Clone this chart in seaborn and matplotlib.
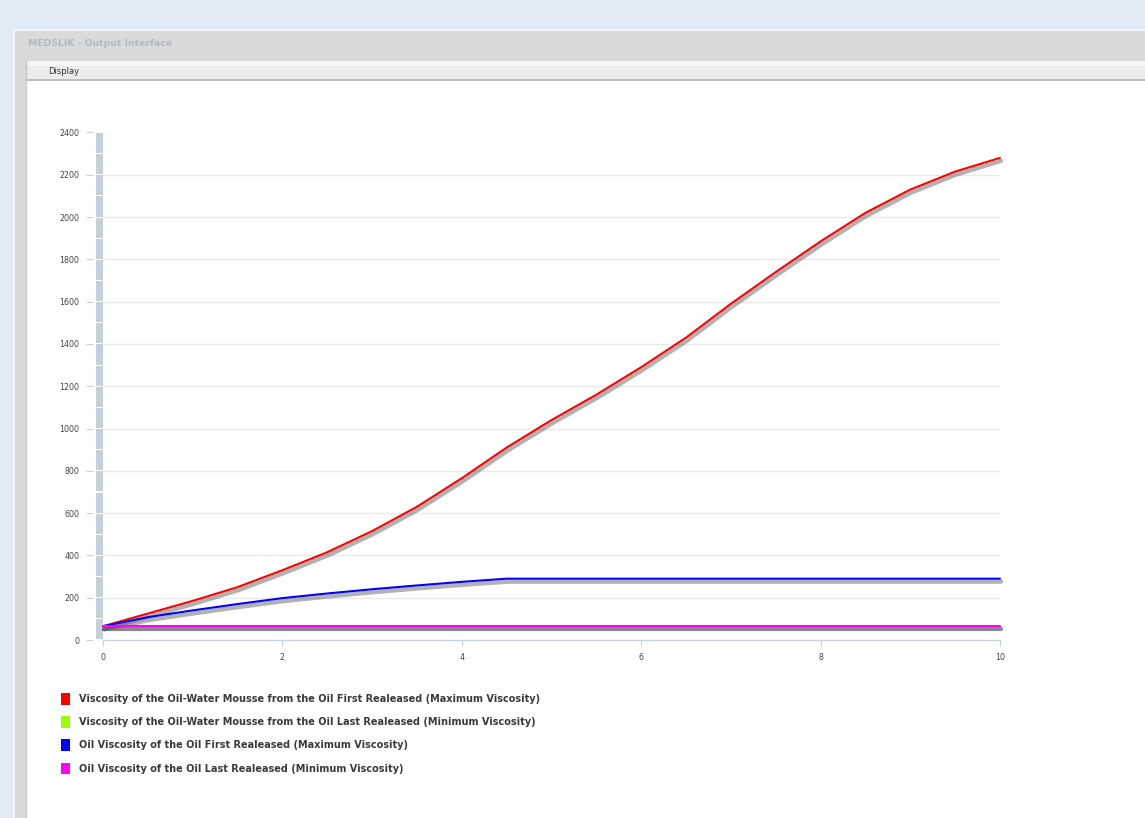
import matplotlib
matplotlib.use("Agg")
import matplotlib.pyplot as plt
import matplotlib.patheffects as pe
import matplotlib.transforms as mtransforms
from matplotlib.patches import Rectangle, Patch
import pandas as pd
import seaborn as sns

# ---- data -------------------------------------------------------------
hours = [0, 0.5, 1, 1.5, 2, 2.5, 3, 3.5, 4, 4.5, 5,
         5.5, 6, 6.5, 7, 7.5, 8, 8.5, 9, 9.5, 10]

mousse_first = [65, 125, 185, 250, 330, 415, 515, 630, 765, 910, 1040,
                1160, 1290, 1430, 1590, 1740, 1885, 2020, 2130, 2215, 2280]
mousse_last = [65, 65, 65, 65, 65, 65, 65, 65, 65, 65, 65,
               65, 65, 65, 65, 65, 65, 65, 65, 65, 65]
oil_first = [65, 108, 140, 170, 198, 220, 240, 258, 275, 290, 290,
             290, 290, 290, 290, 290, 290, 290, 290, 290, 290]
oil_last = [65, 65, 65, 65, 65, 65, 65, 65, 65, 65, 65,
            65, 65, 65, 65, 65, 65, 65, 65, 65, 65]

series_names = [
    "Viscosity of the Oil-Water Mousse from the Oil First Realeased (Maximum Viscosity)",
    "Viscosity of the Oil-Water Mousse from the Oil Last Realeased (Minimum Viscosity)",
    "Oil Viscosity of the Oil First Realeased (Maximum Viscosity)",
    "Oil Viscosity of the Oil Last Realeased (Minimum Viscosity)",
]
series_colors = ["#ff0000", "#99ff00", "#0000ff", "#ff00ff"]

y_ticks = [0, 200, 400, 600, 800, 1000, 1200, 1400, 1600, 1800, 2000, 2200, 2400]
x_ticks = [0, 2, 4, 6, 8, 10]

window_title = "MEDSLIK - Output Interface"
menu_label = "Display"

df = pd.DataFrame({
    "time": hours * 4,
    "viscosity": mousse_first + mousse_last + oil_first + oil_last,
    "series": [n for n in series_names for _ in hours],
})

# ---- figure -----------------------------------------------------------
W, H = 1145, 818
sns.set_theme(style="white")
plt.rcParams["font.family"] = ["DejaVu Sans"]
fig = plt.figure(figsize=(W / 100, H / 100), dpi=100)
fig.patch.set_facecolor("#e1ebf5")

# application window chrome, drawn in pixel coordinates
chrome = fig.add_axes([0, 0, 1, 1], zorder=0)
chrome.set_xlim(0, W)
chrome.set_ylim(H, 0)
chrome.axis("off")
chrome.add_patch(Rectangle((13, 29), W - 13, H - 29, facecolor="#f4f6f8", edgecolor="none"))
chrome.add_patch(Rectangle((15, 31), W - 15, H - 31, facecolor="#dadada", edgecolor="none"))
chrome.add_patch(Rectangle((26, 61), W - 26, 19, facecolor="#ececec", edgecolor="none"))
chrome.add_patch(Rectangle((26, 61), W - 26, 5, facecolor="#f6f6f6", edgecolor="none"))
chrome.plot([26, W], [80, 80], color="#b8b8b8", lw=1.2)
chrome.plot([26, 26], [61, 80], color="#c4c4c4", lw=1)
chrome.add_patch(Rectangle((26, 81), W - 26, H - 81, facecolor="white", edgecolor="none"))
chrome.plot([25.5, 25.5], [81, H], color="#cfcfcf", lw=1)
chrome.text(28, 44, window_title, fontsize=6.7, fontweight="bold",
            color="#b0bac4", va="center", ha="left")
chrome.text(48, 71, menu_label, fontsize=6.0, color="#333333", va="center", ha="left")

# plot area
left_px, right_px, top_px, bottom_px = 103, 1000, 132.5, 640
ax = fig.add_axes([left_px / W, 1 - bottom_px / H,
                   (right_px - left_px) / W, (bottom_px - top_px) / H], zorder=2)
ax.set_facecolor("none")

sns.lineplot(data=df, x="time", y="viscosity", hue="series",
             hue_order=series_names, palette=series_colors,
             linewidth=1.5, legend=False, ax=ax, zorder=5)

shadow = [pe.SimpleLineShadow(offset=(0.8, -2.2), shadow_color="#555555",
                              alpha=0.45, linewidth=3.0),
          pe.Normal()]
for line in ax.get_lines():
    line.set_path_effects(shadow)
    line.set_clip_on(False)
    line.set_solid_joinstyle("round")

ax.set_xlim(0, 10)
ax.set_ylim(0, 2400)
ax.set_xticks(x_ticks)
ax.set_yticks(y_ticks)
ax.set_xticklabels([str(t) for t in x_ticks])
ax.set_yticklabels([str(t) for t in y_ticks])
ax.set_xlabel("")
ax.set_ylabel("")

# horizontal grid
for v in y_ticks[1:]:
    ax.axhline(v, color="#e9e9e9", lw=1.0, zorder=1)

for side in ["top", "right"]:
    ax.spines[side].set_visible(False)
ax.spines["bottom"].set_color("#c9d3dd")
ax.spines["bottom"].set_linewidth(1.0)
ax.spines["left"].set_position(("outward", 7))
ax.spines["left"].set_visible(False)

ax.tick_params(axis="y", direction="out", length=5, width=0.8, color="#c9d3dd",
               pad=5, labelsize=5.7, labelcolor="#444444", left=True)
ax.tick_params(axis="x", direction="out", length=4, width=0.8, color="#c9d3dd",
               pad=5, labelsize=5.7, labelcolor="#444444", bottom=True)

# segmented vertical axis bar
bar_tr = mtransforms.blended_transform_factory(ax.transAxes, ax.transData)
bar_w = 7 / (right_px - left_px)
for lo in range(0, 2400, 100):
    ax.add_patch(Rectangle((-bar_w, lo + 2.5), bar_w * 0.95, 95,
                           transform=bar_tr, facecolor="#c3d0dc",
                           edgecolor="none", clip_on=False, zorder=3))

# legend
handles = [Patch(facecolor=c, edgecolor="none") for c in series_colors]
fig.legend(handles, series_names, loc="upper left",
           bbox_to_anchor=(60.5 / W, 1 - 693 / H), frameon=False,
           prop={"size": 7.0, "weight": "bold"}, labelcolor="#3a3a3a",
           handlelength=0.95, handleheight=1.45, handletextpad=1.0,
           labelspacing=1.2, borderpad=0, borderaxespad=0)

fig.savefig("out.png", dpi=100, facecolor=fig.get_facecolor())
